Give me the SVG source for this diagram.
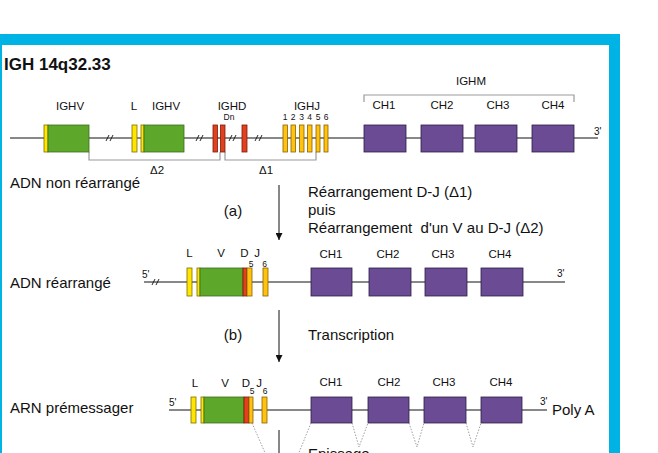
<svg xmlns="http://www.w3.org/2000/svg" width="658" height="453" viewBox="0 0 658 453">
<style>
text{font-family:"Liberation Sans",Arial,sans-serif;fill:#111}
.lb{font-size:11.5px;text-anchor:middle}
.sm{font-size:8.5px;text-anchor:middle}
.big{font-size:15px}
.pr{font-size:10px}
.ln{stroke:#111;stroke-width:1;fill:none}
.br{stroke:#9a9a9a;stroke-width:1.2;fill:none}
.dt{stroke:#a0a0a0;stroke-width:1;fill:none;stroke-dasharray:1.5 1.5}
.g{fill:#5da82b;stroke:#3c6b1c;stroke-width:0.8}
.y{fill:#ffe500;stroke:#7d6f00;stroke-width:0.8}
.o{fill:#ffc20e;stroke:#8a6300;stroke-width:0.8}
.r{fill:#e2401f;stroke:#7a1c0c;stroke-width:0.8}
.p{fill:#6a4b94;stroke:#2c1d47;stroke-width:0.8}
.sl{stroke:#111;stroke-width:0.9;fill:none}
</style>
<defs>
<marker id="ah" viewBox="0 0 10 10" refX="10" refY="5" markerWidth="7" markerHeight="7" markerUnits="userSpaceOnUse" orient="auto"><path d="M0 0 L10 5 L0 10 Z" fill="#111"/></marker>
<path id="sl" d="M-4 3 L-1 -3 M0 3 L3 -3"/>
</defs>
<rect x="0" y="0" width="658" height="453" fill="#fff"/>
<g id="frame">
<rect x="-20" y="34" width="640" height="440" fill="#00b3e5"/>
<rect x="2" y="45" width="607" height="430" fill="#fff"/>
</g>
<text id="title" x="4" y="70" style="font-size:17px;font-weight:bold">IGH 14q32.33</text>

<g id="connectors">
<line class="ln" x1="10" y1="138" x2="598" y2="138"/>
<line class="ln" x1="144" y1="282" x2="565" y2="282"/>
<line class="ln" x1="169" y1="410" x2="547" y2="410"/>
<path class="br" d="M89 152 V160 H220 V152"/>
<path class="br" d="M225 152 V160 H316 V152"/>
<path class="br" d="M364 102 V95 H574 V102"/>
<line class="ln" x1="279" y1="185" x2="279" y2="240" marker-end="url(#ah)"/>
<line class="ln" x1="279" y1="310" x2="279" y2="362" marker-end="url(#ah)"/>
<line class="ln" x1="279" y1="430" x2="279" y2="460"/>
<path class="dt" d="M252 423 L266 455"/>
<path class="dt" d="M311 423 L298 455"/>
<path class="dt" d="M352 423 L359 447 L368 423"/>
<path class="dt" d="M409 423 L417 447 L424 423"/>
<path class="dt" d="M466 423 L473 447 L481 423"/>
<g class="sl">
<use href="#sl" x="110" y="138"/>
<use href="#sl" x="200" y="138"/>
<use href="#sl" x="233" y="138"/>
<use href="#sl" x="259" y="138"/>
<use href="#sl" x="156" y="282"/>
</g>
</g>

<g id="row1">
<g id="ighv1"><rect class="y" x="44" y="125" width="4" height="27"/><rect class="g" x="48" y="125" width="41" height="27"/><text class="lb" x="70" y="110">IGHV</text></g>
<g id="l1"><rect class="y" x="132" y="125" width="5" height="27"/><text class="lb" x="134" y="110">L</text></g>
<g id="ighv2"><rect class="y" x="141" y="125" width="3" height="27"/><rect class="g" x="144" y="125" width="40" height="27"/><text class="lb" x="166" y="110">IGHV</text></g>
<g id="ighd"><rect class="r" x="213" y="125" width="4.5" height="27"/><rect class="r" x="220.5" y="125" width="4.5" height="27"/><rect class="r" x="242" y="125" width="5" height="27"/><text class="lb" x="232" y="110">IGHD</text><text class="sm" x="229" y="120">Dn</text></g>
<g id="ighj">
<rect class="o" x="283" y="125" width="4.5" height="27"/><rect class="o" x="291" y="125" width="4.5" height="27"/><rect class="o" x="299.5" y="125" width="4.5" height="27"/><rect class="o" x="307.5" y="125" width="4.5" height="27"/><rect class="o" x="316" y="125" width="4" height="27"/><rect class="o" x="324" y="125" width="4" height="27"/>
<text class="lb" x="307" y="110">IGHJ</text>
<text class="sm" x="285" y="120">1</text><text class="sm" x="293" y="120">2</text><text class="sm" x="301.5" y="120">3</text><text class="sm" x="309.5" y="120">4</text><text class="sm" x="318" y="120">5</text><text class="sm" x="326" y="120">6</text>
</g>
<g id="ighm">
<rect class="p" x="364" y="125" width="42" height="27"/><rect class="p" x="421" y="125" width="42" height="27"/><rect class="p" x="475" y="125" width="42" height="27"/><rect class="p" x="532" y="125" width="42" height="27"/>
<text class="lb" x="471" y="85">IGHM</text>
<text class="lb" x="384" y="109">CH1</text><text class="lb" x="442" y="109">CH2</text><text class="lb" x="498" y="109">CH3</text><text class="lb" x="553" y="109">CH4</text>
</g>
<text class="pr" x="594" y="135">3'</text>
<text class="lb" x="157" y="174">Δ2</text>
<text class="lb" x="266" y="174">Δ1</text>
<text class="big" x="10" y="188">ADN non réarrangé</text>
</g>

<g id="step-a">
<text class="big" x="233" y="216" text-anchor="middle">(a)</text>
<text class="big" x="308" y="197">Réarrangement D-J (Δ1)</text>
<text class="big" x="308" y="215">puis</text>
<text class="big" x="308" y="233" xml:space="preserve">Réarrangement  d'un V au D-J (Δ2)</text>
</g>

<g id="row2">
<text class="big" x="10" y="288">ADN réarrangé</text>
<text class="pr" x="142" y="278">5'</text>
<rect class="y" x="187" y="268" width="5" height="28"/>
<rect class="y" x="197" y="268" width="3" height="28"/>
<rect class="g" x="200" y="268" width="43" height="28"/>
<rect class="r" x="243" y="268" width="4" height="28"/>
<rect class="o" x="247" y="268" width="5" height="28"/>
<rect class="o" x="263" y="268" width="5" height="28"/>
<rect class="p" x="311" y="268" width="41" height="28"/><rect class="p" x="369" y="268" width="42" height="28"/><rect class="p" x="425" y="268" width="42" height="28"/><rect class="p" x="481" y="268" width="42" height="28"/>
<text class="lb" x="189.5" y="257">L</text><text class="lb" x="221" y="257">V</text><text class="lb" x="244.5" y="257">D</text><text class="lb" x="257" y="257">J</text>
<text class="sm" x="251" y="267">5</text><text class="sm" x="264.5" y="267">6</text>
<text class="lb" x="331" y="258">CH1</text><text class="lb" x="388" y="258">CH2</text><text class="lb" x="443" y="258">CH3</text><text class="lb" x="500" y="258">CH4</text>
<text class="pr" x="557" y="277">3'</text>
</g>

<g id="step-b">
<text class="big" x="233" y="340" text-anchor="middle">(b)</text>
<text class="big" x="308" y="340">Transcription</text>
</g>

<g id="row3">
<text class="big" x="10" y="413">ARN prémessager</text>
<text class="pr" x="169" y="406">5'</text>
<rect class="y" x="191" y="397" width="5" height="26"/>
<rect class="y" x="201" y="397" width="3" height="26"/>
<rect class="g" x="204" y="397" width="40" height="26"/>
<rect class="r" x="244" y="397" width="5" height="26"/>
<rect class="o" x="249" y="397" width="4" height="26"/>
<rect class="o" x="262" y="397" width="5" height="26"/>
<rect class="p" x="311" y="397" width="41" height="26"/><rect class="p" x="368" y="397" width="41" height="26"/><rect class="p" x="424" y="397" width="42" height="26"/><rect class="p" x="481" y="397" width="41" height="26"/>
<text class="lb" x="195" y="387">L</text><text class="lb" x="225" y="387">V</text><text class="lb" x="246" y="387">D</text><text class="lb" x="259" y="387">J</text>
<text class="sm" x="252" y="394">5</text><text class="sm" x="265" y="394">6</text>
<text class="lb" x="331" y="386">CH1</text><text class="lb" x="389" y="386">CH2</text><text class="lb" x="444" y="386">CH3</text><text class="lb" x="501" y="386">CH4</text>
<text class="pr" x="540" y="405">3'</text>
<text class="big" x="552" y="415">Poly A</text>
<text class="big" x="308" y="459">Epissage</text>
</g>
</svg>
